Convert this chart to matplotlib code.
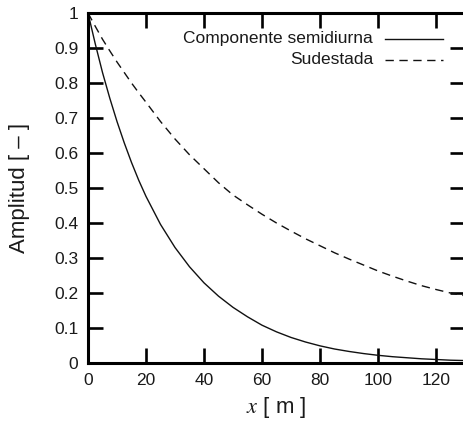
import matplotlib
matplotlib.use("Agg")
import matplotlib.pyplot as plt

plt.rcParams['font.family'] = ['Liberation Sans', 'DejaVu Sans']
plt.rcParams['mathtext.fontset'] = 'stix'

# Data
x_vals = [0, 2.5, 5, 7.5, 10, 12.5, 15, 17.5, 20, 25, 30, 35, 40, 45, 50, 55,
          60, 65, 70, 75, 80, 85, 90, 95, 100, 105, 110, 115, 120, 125, 130]
semidiurna = [1.0, 0.912, 0.83, 0.757, 0.69, 0.629, 0.573, 0.522, 0.476,
              0.396, 0.33, 0.275, 0.229, 0.191, 0.159, 0.132, 0.108, 0.089,
              0.073, 0.060, 0.049, 0.040, 0.033, 0.027, 0.022, 0.018, 0.015,
              0.012, 0.010, 0.008, 0.007]
sudestada = [1.0, 0.962, 0.925, 0.892, 0.86, 0.83, 0.80, 0.772, 0.745, 0.69,
             0.64, 0.595, 0.555, 0.515, 0.48, 0.452, 0.425, 0.40, 0.377, 0.355,
             0.335, 0.315, 0.297, 0.28, 0.263, 0.248, 0.234, 0.221, 0.21, 0.20,
             0.192]
series_labels = ["Componente semidiurna", "Sudestada"]
x_ticks = [0, 20, 40, 60, 80, 100, 120]
x_ticklabels = ["0", "20", "40", "60", "80", "100", "120"]
y_ticks = [0, 0.1, 0.2, 0.3, 0.4, 0.5, 0.6, 0.7, 0.8, 0.9, 1.0]
y_ticklabels = ["0", "0.1", "0.2", "0.3", "0.4", "0.5", "0.6", "0.7", "0.8", "0.9", "1"]

fig = plt.figure(figsize=(4.63, 4.22), dpi=100)
ax = fig.add_axes([88/463, 59/422, (465-88)/463, (363-13)/422])

txt = '#1a1a1a'
ax.plot(x_vals, semidiurna, color='#111111', lw=1.0, solid_joinstyle='round')
ax.plot(x_vals, sudestada, color='#111111', lw=1.0, linestyle=(0, (6, 4)))

ax.set_xlim(0, 130)
ax.set_ylim(0, 1)
ax.set_xticks(x_ticks)
ax.set_xticklabels(x_ticklabels)
ax.set_yticks(y_ticks)
ax.set_yticklabels(y_ticklabels)
ax.tick_params(direction='in', length=11, width=1.9, top=True, right=True,
               labelsize=12.5, pad=7, colors='black', labelcolor=txt)
for s in ax.spines.values():
    s.set_linewidth(2.2)

ax.set_xlabel(r'$x$ [ m ]', fontsize=16, color=txt, labelpad=5)
ax.set_ylabel('Amplitud [ – ]', fontsize=16, color=txt, labelpad=17)

# legend (gnuplot style: right-aligned text, sample to the right)
styles = ['-', (0, (6, 4))]
ys = [1 - (39 - 13) / 350, 1 - (60 - 13) / 350]
x_text = (373 - 88) / 377
x0, x1 = (385 - 88) / 377, (443 - 88) / 377
for lab, st, yy in zip(series_labels, styles, ys):
    ax.text(x_text, yy, lab, transform=ax.transAxes, ha='right', va='center',
            fontsize=12.5, color=txt)
    ax.plot([x0, x1], [yy, yy], transform=ax.transAxes, color='#111111',
            lw=1.0, linestyle=st, clip_on=False)

fig.savefig('out.png', dpi=100)
